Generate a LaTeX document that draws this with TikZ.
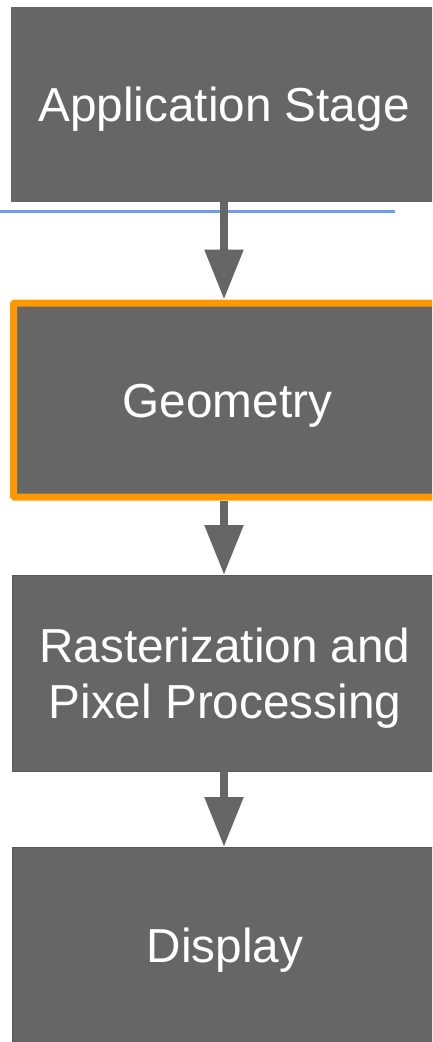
\documentclass[tikz,border=0pt]{standalone}
\usepackage{fontspec}
\setmainfont{Liberation Sans}
\usetikzlibrary{arrows.meta}
\definecolor{boxgray}{HTML}{666666}
\definecolor{edgegray}{HTML}{5A5A5A}
\definecolor{hlorange}{HTML}{FF9900}
\definecolor{lineblue}{HTML}{6D9EEB}
\begin{document}
\begin{tikzpicture}[x=1pt,y=-1pt,
  stage/.style={rectangle, fill=boxgray, text=white,
    font=\fontsize{47.7}{56}\selectfont, align=center,
    minimum width=426pt, minimum height=195pt, inner sep=0pt, outer sep=0pt,
    text height=34pt, text depth=0pt},
  flow/.style={draw=boxgray, line width=8.5pt,
    -{Triangle[length=50pt,width=37pt]}},
  sep/.style={draw=lineblue, line width=3pt}]
\useasboundingbox (0,0) rectangle (432,1042);
\clip (0,0) rectangle (432,1042);
\node[stage] (app) at (224,104.5) {Application Stage};
\node[stage, draw=hlorange, line width=7pt, rounded corners=1pt,
  minimum width=428pt, minimum height=194pt, outer sep=3.5pt] (geo) at (227.5,400) {Geometry};
\node[stage, draw=edgegray, line width=1pt, minimum height=196pt, text height=90pt] (ras) at (225,673) {Rasterization and\\Pixel Processing};
\node[stage, draw=edgegray, line width=1pt, minimum height=196pt] (disp) at (225,945) {Display};
\coordinate (sepL) at (0,211);
\coordinate (sepR) at (395,211);
\draw[sep] (sepL) -- (sepR);
\draw[flow] (app.south) -- (app.south |- geo.north);
\draw[flow] (app.south |- geo.south) -- (app.south |- ras.north);
\draw[flow] (app.south |- ras.south) -- (app.south |- disp.north);
\end{tikzpicture}
\end{document}
